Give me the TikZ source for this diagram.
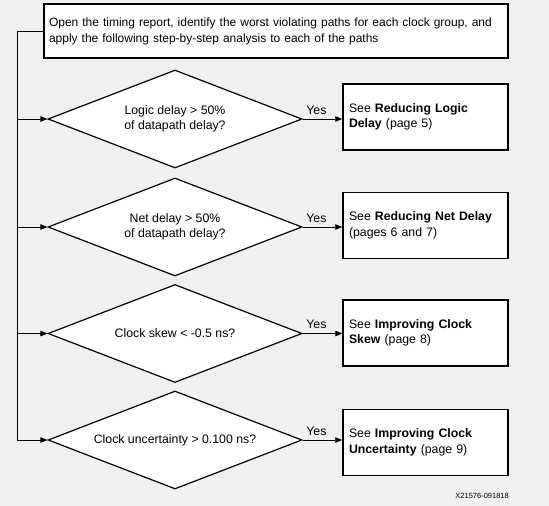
\documentclass[tikz,border=0pt]{standalone}
\usepackage{fontspec}
\setmainfont{Liberation Sans}
\usetikzlibrary{shapes.geometric,arrows.meta}
\definecolor{bg}{RGB}{240,240,240}
\begin{document}
\begin{tikzpicture}[x=1pt,y=-1pt,
  font=\fontsize{12.3}{15.5}\selectfont,
  box/.style={draw,line width=1.5pt,fill=white,rectangle,inner sep=0pt},
  dec/.style={draw,line width=1.2pt,fill=white,diamond,inner sep=0pt,shape aspect=2.6,
    minimum width=254pt,minimum height=98pt,align=center},
  res/.style={box,minimum width=165pt,minimum height=66pt,text width=153pt,align=left},
  conn/.style={line width=0.8pt},
  arr/.style={conn,-{Triangle[length=7pt,width=5.5pt]}},
  lbl/.style={inner sep=0pt}]
\fill[bg] (0,0) rectangle (549,506);
\useasboundingbox (0,0) rectangle (549,506);

\node[box,minimum width=464pt,minimum height=54pt,text width=454pt,align=left,
  font=\fontsize{12}{16}\selectfont] (start) at (276,31)
  {Open the timing report, identify the worst violating paths for each clock group, and\\apply the following step-by-step analysis to each of the paths};

\node[dec] (d1) at (175,119) {Logic delay > 50\%\\of datapath delay?};
\node[dec] (d2) at (175,227) {Net delay > 50\%\\of datapath delay?};
\node[dec] (d3) at (175,333.5) {Clock skew < -0.5 ns?};
\node[dec] (d4) at (175,440) {Clock uncertainty > 0.100 ns?};

\node[res] (r1) at (425.5,117) {See \textbf{Reducing Logic}\\\textbf{Delay} (page 5)};
\node[res] (r2) at (425.5,225.5) {See \textbf{Reducing Net Delay}\\(pages 6 and 7)};
\node[res] (r3) at (425.5,333) {See \textbf{Improving Clock}\\\textbf{Skew} (page 8)};
\node[res] (r4) at (425.5,442.5) {See \textbf{Improving Clock}\\\textbf{Uncertainty} (page 9)};

\coordinate (c0) at (17,31);
\coordinate (c1) at (17,119);
\coordinate (c2) at (17,227);
\coordinate (c3) at (17,333.5);
\coordinate (c4) at (17,440);

\draw[conn] (start.west) -- (c0) -- (c4);
\draw[arr] (c1) -- (d1.west);
\draw[arr] (c2) -- (d2.west);
\draw[arr] (c3) -- (d3.west);
\draw[arr] (c4) -- (d4.west);

\draw[arr] (d1.east) -- node[lbl,above=4pt,xshift=-6pt]{Yes} (d1.east -| r1.west);
\draw[arr] (d2.east) -- node[lbl,above=4pt,xshift=-6pt]{Yes} (d2.east -| r2.west);
\draw[arr] (d3.east) -- node[lbl,above=4pt,xshift=-6pt]{Yes} (d3.east -| r3.west);
\draw[arr] (d4.east) -- node[lbl,above=4pt,xshift=-6pt]{Yes} (d4.east -| r4.west);

\node[lbl,font=\fontsize{7.5}{9}\selectfont,anchor=east] (code) at (509,496) {X21576-091818};
\end{tikzpicture}
\end{document}
